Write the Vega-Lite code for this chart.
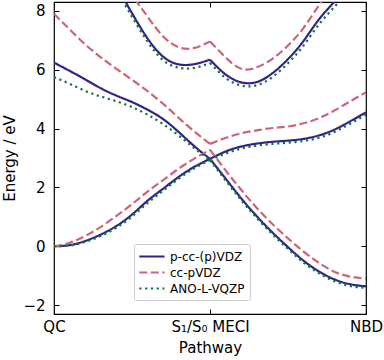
{
  "$schema": "https://vega.github.io/schema/vega-lite/v6.json",
  "width": 312,
  "height": 312,
  "autosize": {"type": "none"},
  "padding": {"left": 54, "top": 2, "right": 18, "bottom": 46},
  "data": {"values": [
    {"m":"p-cc-(p)VDZ","s":"S0a","x":0,"y":0},{"m":"p-cc-(p)VDZ","s":"S0a","x":0.05,"y":0.04},{"m":"p-cc-(p)VDZ","s":"S0a","x":0.1,"y":0.18},{"m":"p-cc-(p)VDZ","s":"S0a","x":0.15,"y":0.4},{"m":"p-cc-(p)VDZ","s":"S0a","x":0.2,"y":0.69},{"m":"p-cc-(p)VDZ","s":"S0a","x":0.25,"y":1.08},{"m":"p-cc-(p)VDZ","s":"S0a","x":0.3,"y":1.55},{"m":"p-cc-(p)VDZ","s":"S0a","x":0.35,"y":1.96},{"m":"p-cc-(p)VDZ","s":"S0a","x":0.4,"y":2.36},{"m":"p-cc-(p)VDZ","s":"S0a","x":0.45,"y":2.7},{"m":"p-cc-(p)VDZ","s":"S0a","x":0.5,"y":2.97},
    {"m":"p-cc-(p)VDZ","s":"S0b","x":0.5,"y":2.97},{"m":"p-cc-(p)VDZ","s":"S0b","x":0.55,"y":2.3},{"m":"p-cc-(p)VDZ","s":"S0b","x":0.6,"y":1.63},{"m":"p-cc-(p)VDZ","s":"S0b","x":0.65,"y":1.02},{"m":"p-cc-(p)VDZ","s":"S0b","x":0.7,"y":0.47},{"m":"p-cc-(p)VDZ","s":"S0b","x":0.75,"y":-0.03},{"m":"p-cc-(p)VDZ","s":"S0b","x":0.8,"y":-0.49},{"m":"p-cc-(p)VDZ","s":"S0b","x":0.85,"y":-0.86},{"m":"p-cc-(p)VDZ","s":"S0b","x":0.9,"y":-1.13},{"m":"p-cc-(p)VDZ","s":"S0b","x":0.95,"y":-1.29},{"m":"p-cc-(p)VDZ","s":"S0b","x":1,"y":-1.36},
    {"m":"p-cc-(p)VDZ","s":"S1a","x":0,"y":6.24},{"m":"p-cc-(p)VDZ","s":"S1a","x":0.05,"y":5.96},{"m":"p-cc-(p)VDZ","s":"S1a","x":0.1,"y":5.67},{"m":"p-cc-(p)VDZ","s":"S1a","x":0.15,"y":5.37},{"m":"p-cc-(p)VDZ","s":"S1a","x":0.2,"y":5.12},{"m":"p-cc-(p)VDZ","s":"S1a","x":0.25,"y":4.9},{"m":"p-cc-(p)VDZ","s":"S1a","x":0.3,"y":4.64},{"m":"p-cc-(p)VDZ","s":"S1a","x":0.35,"y":4.32},{"m":"p-cc-(p)VDZ","s":"S1a","x":0.4,"y":3.88},{"m":"p-cc-(p)VDZ","s":"S1a","x":0.45,"y":3.4},{"m":"p-cc-(p)VDZ","s":"S1a","x":0.5,"y":2.97},
    {"m":"p-cc-(p)VDZ","s":"S1b","x":0.5,"y":2.97},{"m":"p-cc-(p)VDZ","s":"S1b","x":0.55,"y":3.22},{"m":"p-cc-(p)VDZ","s":"S1b","x":0.6,"y":3.39},{"m":"p-cc-(p)VDZ","s":"S1b","x":0.65,"y":3.49},{"m":"p-cc-(p)VDZ","s":"S1b","x":0.7,"y":3.55},{"m":"p-cc-(p)VDZ","s":"S1b","x":0.75,"y":3.59},{"m":"p-cc-(p)VDZ","s":"S1b","x":0.8,"y":3.65},{"m":"p-cc-(p)VDZ","s":"S1b","x":0.85,"y":3.77},{"m":"p-cc-(p)VDZ","s":"S1b","x":0.9,"y":3.97},{"m":"p-cc-(p)VDZ","s":"S1b","x":0.95,"y":4.25},{"m":"p-cc-(p)VDZ","s":"S1b","x":1,"y":4.55},
    {"m":"p-cc-(p)VDZ","s":"S2a","x":0.2,"y":8.85},{"m":"p-cc-(p)VDZ","s":"S2a","x":0.25,"y":7.92},{"m":"p-cc-(p)VDZ","s":"S2a","x":0.3,"y":7.06},{"m":"p-cc-(p)VDZ","s":"S2a","x":0.35,"y":6.44},{"m":"p-cc-(p)VDZ","s":"S2a","x":0.4,"y":6.18},{"m":"p-cc-(p)VDZ","s":"S2a","x":0.45,"y":6.19},{"m":"p-cc-(p)VDZ","s":"S2a","x":0.5,"y":6.34},
    {"m":"p-cc-(p)VDZ","s":"S2b","x":0.5,"y":6.34},{"m":"p-cc-(p)VDZ","s":"S2b","x":0.55,"y":5.84},{"m":"p-cc-(p)VDZ","s":"S2b","x":0.6,"y":5.57},{"m":"p-cc-(p)VDZ","s":"S2b","x":0.65,"y":5.58},{"m":"p-cc-(p)VDZ","s":"S2b","x":0.7,"y":5.88},{"m":"p-cc-(p)VDZ","s":"S2b","x":0.75,"y":6.36},{"m":"p-cc-(p)VDZ","s":"S2b","x":0.8,"y":6.98},{"m":"p-cc-(p)VDZ","s":"S2b","x":0.85,"y":7.72},{"m":"p-cc-(p)VDZ","s":"S2b","x":0.9,"y":8.33},{"m":"p-cc-(p)VDZ","s":"S2b","x":0.95,"y":9.0},

    {"m":"cc-pVDZ","s":"S0a","x":0,"y":0},{"m":"cc-pVDZ","s":"S0a","x":0.05,"y":0.12},{"m":"cc-pVDZ","s":"S0a","x":0.1,"y":0.35},{"m":"cc-pVDZ","s":"S0a","x":0.15,"y":0.66},{"m":"cc-pVDZ","s":"S0a","x":0.2,"y":1.03},{"m":"cc-pVDZ","s":"S0a","x":0.25,"y":1.43},{"m":"cc-pVDZ","s":"S0a","x":0.3,"y":1.86},{"m":"cc-pVDZ","s":"S0a","x":0.35,"y":2.25},{"m":"cc-pVDZ","s":"S0a","x":0.4,"y":2.64},{"m":"cc-pVDZ","s":"S0a","x":0.45,"y":2.98},{"m":"cc-pVDZ","s":"S0a","x":0.5,"y":3.28},
    {"m":"cc-pVDZ","s":"S0b","x":0.5,"y":3.28},{"m":"cc-pVDZ","s":"S0b","x":0.55,"y":2.58},{"m":"cc-pVDZ","s":"S0b","x":0.6,"y":1.92},{"m":"cc-pVDZ","s":"S0b","x":0.65,"y":1.3},{"m":"cc-pVDZ","s":"S0b","x":0.7,"y":0.76},{"m":"cc-pVDZ","s":"S0b","x":0.75,"y":0.27},{"m":"cc-pVDZ","s":"S0b","x":0.8,"y":-0.18},{"m":"cc-pVDZ","s":"S0b","x":0.85,"y":-0.57},{"m":"cc-pVDZ","s":"S0b","x":0.9,"y":-0.87},{"m":"cc-pVDZ","s":"S0b","x":0.95,"y":-1.03},{"m":"cc-pVDZ","s":"S0b","x":1,"y":-1.1},
    {"m":"cc-pVDZ","s":"S1a","x":0,"y":7.9},{"m":"cc-pVDZ","s":"S1a","x":0.05,"y":7.37},{"m":"cc-pVDZ","s":"S1a","x":0.1,"y":6.86},{"m":"cc-pVDZ","s":"S1a","x":0.15,"y":6.42},{"m":"cc-pVDZ","s":"S1a","x":0.2,"y":6.03},{"m":"cc-pVDZ","s":"S1a","x":0.25,"y":5.66},{"m":"cc-pVDZ","s":"S1a","x":0.3,"y":5.27},{"m":"cc-pVDZ","s":"S1a","x":0.35,"y":4.84},{"m":"cc-pVDZ","s":"S1a","x":0.4,"y":4.36},{"m":"cc-pVDZ","s":"S1a","x":0.45,"y":3.9},{"m":"cc-pVDZ","s":"S1a","x":0.5,"y":3.48},
    {"m":"cc-pVDZ","s":"S1b","x":0.5,"y":3.48},{"m":"cc-pVDZ","s":"S1b","x":0.55,"y":3.68},{"m":"cc-pVDZ","s":"S1b","x":0.6,"y":3.84},{"m":"cc-pVDZ","s":"S1b","x":0.65,"y":3.94},{"m":"cc-pVDZ","s":"S1b","x":0.7,"y":4.02},{"m":"cc-pVDZ","s":"S1b","x":0.75,"y":4.07},{"m":"cc-pVDZ","s":"S1b","x":0.8,"y":4.18},{"m":"cc-pVDZ","s":"S1b","x":0.85,"y":4.36},{"m":"cc-pVDZ","s":"S1b","x":0.9,"y":4.62},{"m":"cc-pVDZ","s":"S1b","x":0.95,"y":4.93},{"m":"cc-pVDZ","s":"S1b","x":1,"y":5.23},
    {"m":"cc-pVDZ","s":"S2a","x":0.2,"y":9.4},{"m":"cc-pVDZ","s":"S2a","x":0.25,"y":8.55},{"m":"cc-pVDZ","s":"S2a","x":0.3,"y":7.8},{"m":"cc-pVDZ","s":"S2a","x":0.35,"y":7.13},{"m":"cc-pVDZ","s":"S2a","x":0.4,"y":6.76},{"m":"cc-pVDZ","s":"S2a","x":0.45,"y":6.74},{"m":"cc-pVDZ","s":"S2a","x":0.5,"y":6.96},
    {"m":"cc-pVDZ","s":"S2b","x":0.5,"y":6.96},{"m":"cc-pVDZ","s":"S2b","x":0.55,"y":6.42},{"m":"cc-pVDZ","s":"S2b","x":0.6,"y":6.03},{"m":"cc-pVDZ","s":"S2b","x":0.65,"y":6.08},{"m":"cc-pVDZ","s":"S2b","x":0.7,"y":6.37},{"m":"cc-pVDZ","s":"S2b","x":0.75,"y":6.82},{"m":"cc-pVDZ","s":"S2b","x":0.8,"y":7.42},{"m":"cc-pVDZ","s":"S2b","x":0.85,"y":8.2},{"m":"cc-pVDZ","s":"S2b","x":0.9,"y":8.9},

    {"m":"ANO-L-VQZP","s":"S0a","x":0,"y":0},{"m":"ANO-L-VQZP","s":"S0a","x":0.05,"y":0.03},{"m":"ANO-L-VQZP","s":"S0a","x":0.1,"y":0.15},{"m":"ANO-L-VQZP","s":"S0a","x":0.15,"y":0.35},{"m":"ANO-L-VQZP","s":"S0a","x":0.2,"y":0.63},{"m":"ANO-L-VQZP","s":"S0a","x":0.25,"y":1.01},{"m":"ANO-L-VQZP","s":"S0a","x":0.3,"y":1.47},{"m":"ANO-L-VQZP","s":"S0a","x":0.35,"y":1.89},{"m":"ANO-L-VQZP","s":"S0a","x":0.4,"y":2.3},{"m":"ANO-L-VQZP","s":"S0a","x":0.45,"y":2.65},{"m":"ANO-L-VQZP","s":"S0a","x":0.5,"y":2.93},
    {"m":"ANO-L-VQZP","s":"S0b","x":0.5,"y":2.93},{"m":"ANO-L-VQZP","s":"S0b","x":0.55,"y":2.24},{"m":"ANO-L-VQZP","s":"S0b","x":0.6,"y":1.57},{"m":"ANO-L-VQZP","s":"S0b","x":0.65,"y":0.96},{"m":"ANO-L-VQZP","s":"S0b","x":0.7,"y":0.41},{"m":"ANO-L-VQZP","s":"S0b","x":0.75,"y":-0.09},{"m":"ANO-L-VQZP","s":"S0b","x":0.8,"y":-0.55},{"m":"ANO-L-VQZP","s":"S0b","x":0.85,"y":-0.92},{"m":"ANO-L-VQZP","s":"S0b","x":0.9,"y":-1.19},{"m":"ANO-L-VQZP","s":"S0b","x":0.95,"y":-1.35},{"m":"ANO-L-VQZP","s":"S0b","x":1,"y":-1.41},
    {"m":"ANO-L-VQZP","s":"S1a","x":0,"y":5.75},{"m":"ANO-L-VQZP","s":"S1a","x":0.05,"y":5.52},{"m":"ANO-L-VQZP","s":"S1a","x":0.1,"y":5.28},{"m":"ANO-L-VQZP","s":"S1a","x":0.15,"y":5.09},{"m":"ANO-L-VQZP","s":"S1a","x":0.2,"y":4.93},{"m":"ANO-L-VQZP","s":"S1a","x":0.25,"y":4.73},{"m":"ANO-L-VQZP","s":"S1a","x":0.3,"y":4.47},{"m":"ANO-L-VQZP","s":"S1a","x":0.35,"y":4.15},{"m":"ANO-L-VQZP","s":"S1a","x":0.4,"y":3.76},{"m":"ANO-L-VQZP","s":"S1a","x":0.45,"y":3.33},{"m":"ANO-L-VQZP","s":"S1a","x":0.5,"y":2.93},
    {"m":"ANO-L-VQZP","s":"S1b","x":0.5,"y":2.93},{"m":"ANO-L-VQZP","s":"S1b","x":0.55,"y":3.15},{"m":"ANO-L-VQZP","s":"S1b","x":0.6,"y":3.32},{"m":"ANO-L-VQZP","s":"S1b","x":0.65,"y":3.42},{"m":"ANO-L-VQZP","s":"S1b","x":0.7,"y":3.48},{"m":"ANO-L-VQZP","s":"S1b","x":0.75,"y":3.52},{"m":"ANO-L-VQZP","s":"S1b","x":0.8,"y":3.58},{"m":"ANO-L-VQZP","s":"S1b","x":0.85,"y":3.69},{"m":"ANO-L-VQZP","s":"S1b","x":0.9,"y":3.89},{"m":"ANO-L-VQZP","s":"S1b","x":0.95,"y":4.17},{"m":"ANO-L-VQZP","s":"S1b","x":1,"y":4.47},
    {"m":"ANO-L-VQZP","s":"S2a","x":0.2,"y":8.7},{"m":"ANO-L-VQZP","s":"S2a","x":0.25,"y":7.8},{"m":"ANO-L-VQZP","s":"S2a","x":0.3,"y":6.95},{"m":"ANO-L-VQZP","s":"S2a","x":0.35,"y":6.32},{"m":"ANO-L-VQZP","s":"S2a","x":0.4,"y":6.07},{"m":"ANO-L-VQZP","s":"S2a","x":0.45,"y":6.06},{"m":"ANO-L-VQZP","s":"S2a","x":0.5,"y":6.23},
    {"m":"ANO-L-VQZP","s":"S2b","x":0.5,"y":6.23},{"m":"ANO-L-VQZP","s":"S2b","x":0.55,"y":5.72},{"m":"ANO-L-VQZP","s":"S2b","x":0.6,"y":5.46},{"m":"ANO-L-VQZP","s":"S2b","x":0.65,"y":5.47},{"m":"ANO-L-VQZP","s":"S2b","x":0.7,"y":5.75},{"m":"ANO-L-VQZP","s":"S2b","x":0.75,"y":6.22},{"m":"ANO-L-VQZP","s":"S2b","x":0.8,"y":6.82},{"m":"ANO-L-VQZP","s":"S2b","x":0.85,"y":7.55},{"m":"ANO-L-VQZP","s":"S2b","x":0.9,"y":8.15},{"m":"ANO-L-VQZP","s":"S2b","x":0.95,"y":8.8}
  ]},
  "layer": [
    {
      "mark": {"type": "line", "interpolate": "natural", "clip": true, "strokeWidth": 2.2},
      "encoding": {
        "x": {"field": "x", "type": "quantitative", "scale": {"domain": [0, 1], "nice": false, "zero": false},
          "axis": {"values": [0, 0.5, 1], "labelExpr": "datum.value == 0 ? 'QC' : datum.value == 1 ? 'NBD' : 'S₁/S₀ MECI'", "title": "Pathway", "labelPadding": 10, "titlePadding": 6, "labelFlush": false}},
        "y": {"field": "y", "type": "quantitative", "scale": {"domain": [-2.3, 8.3], "nice": false, "zero": false},
          "axis": {"values": [-2, 0, 2, 4, 6, 8], "title": "Energy / eV", "labelPadding": 14, "titleX": -37, "titleBaseline": "bottom"}},
        "color": {"field": "m", "type": "nominal", "title": null,
          "scale": {"domain": ["p-cc-(p)VDZ", "cc-pVDZ", "ANO-L-VQZP"], "range": ["#332288", "#CC6677", "#117733"]},
          "legend": {"orient": "none", "legendX": 80, "legendY": 242}},
        "strokeDash": {"field": "m", "type": "nominal", "title": null,
          "scale": {"domain": ["p-cc-(p)VDZ", "cc-pVDZ", "ANO-L-VQZP"], "range": [[1, 0], [8, 3.5], [2.2, 3.6]]},
          "legend": {"orient": "none", "legendX": 80, "legendY": 242}},
        "detail": {"field": "s", "type": "nominal"}
      }
    },
    {
      "mark": {"type": "point", "opacity": 0},
      "encoding": {
        "x": {"field": "x", "type": "quantitative", "axis": {"orient": "top", "values": [0, 0.5, 1], "labels": false, "title": null}},
        "y": {"field": "y", "type": "quantitative", "axis": {"orient": "right", "values": [-2, 0, 2, 4, 6, 8], "labels": false, "title": null}}
      }
    }
  ],
  "resolve": {"axis": {"x": "independent", "y": "independent"}},
  "config": {
    "font": "DejaVu Sans",
    "view": {"stroke": "black", "strokeWidth": 1.2},
    "axis": {"domain": false, "grid": false, "tickColor": "black", "tickSize": -5, "tickWidth": 1, "labelFontSize": 15, "labelColor": "black", "titleFontSize": 15, "titleFontWeight": "normal", "titleColor": "black", "labelFont": "DejaVu Sans", "titleFont": "DejaVu Sans"},
    "legend": {"symbolType": "M-1.2,0H3", "symbolSize": 144, "symbolStrokeWidth": 2.2, "labelFontSize": 12, "labelColor": "black", "labelFont": "DejaVu Sans", "labelOffset": 16, "padding": 5, "rowPadding": 2, "strokeColor": "#cccccc", "fillColor": "white", "cornerRadius": 2}
  }
}
